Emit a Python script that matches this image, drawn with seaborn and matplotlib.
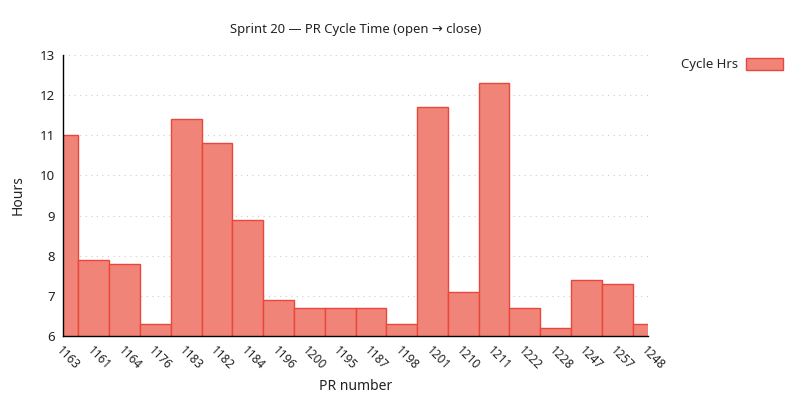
import matplotlib
matplotlib.use("Agg")
import matplotlib.pyplot as plt
import seaborn as sns
import pandas as pd
from matplotlib.patches import Patch

pr_numbers = ["1163", "1161", "1164", "1176", "1183", "1182", "1184", "1196", "1200", "1195",
              "1187", "1198", "1201", "1210", "1211", "1222", "1228", "1247", "1257", "1248"]
cycle_hrs = [11.0, 7.9, 7.8, 6.3, 11.4, 10.8, 8.9, 6.9, 6.7, 6.7,
             6.7, 6.3, 11.7, 7.1, 12.3, 6.7, 6.2, 7.4, 7.3, 6.3]
y_ticks = [6, 7, 8, 9, 10, 11, 12, 13]

sns.set_style("white")
plt.rcParams["font.family"] = ["Noto Sans", "DejaVu Sans"]

FILL = "#F08478"
EDGE = "#E8473A"

df = pd.DataFrame({"PR": pr_numbers, "Hours": cycle_hrs})

fig = plt.figure(figsize=(8, 4), dpi=100)
ax = fig.add_axes([63/800, 64/400, (648-63)/800, (336-55)/400])

sns.barplot(data=df, x="PR", y="Hours", order=pr_numbers, width=1.0,
            color=FILL, saturation=1, edgecolor=EDGE, linewidth=1.0, ax=ax)
for p in ax.patches:
    p.set_facecolor(FILL)

ax.set_xlim(0, len(pr_numbers) - 1)
ax.set_ylim(6, 13)
ax.set_yticks(y_ticks)
ax.set_yticklabels([str(t) for t in y_ticks], fontsize=9.5, color="#222222")
ax.set_xticks(range(len(pr_numbers)))
ax.set_xticklabels(pr_numbers, rotation=-45, ha="left", va="top",
                   rotation_mode="anchor", fontsize=8.5, color="#222222")
ax.tick_params(axis="both", direction="in", length=5, width=1, color="black")
ax.tick_params(axis="x", length=0, pad=6)
ax.tick_params(axis="y", pad=6)

ax.grid(axis="y", linestyle=(0, (1, 4)), color="#cccccc", linewidth=0.8)
ax.set_axisbelow(True)

for s in ["top", "right"]:
    ax.spines[s].set_visible(False)
for s in ["left", "bottom"]:
    ax.spines[s].set_color("black")
    ax.spines[s].set_linewidth(1.0)

ax.set_xlabel("PR number", fontsize=10, color="#222222")
ax.set_ylabel("Hours", fontsize=10, color="#222222")
ax.xaxis.set_label_coords(0.5, (336 - 387) / 281, transform=ax.transAxes)
ax.xaxis.label.set_va("center")
ax.yaxis.set_label_coords((18 - 63) / 585, 0.5, transform=ax.transAxes)
ax.yaxis.label.set_va("center")
ax.set_title("Sprint 20 \u2014 PR Cycle Time (open \u2192 close)", fontsize=9.4,
             color="#222222", pad=16)

handle = Patch(facecolor=FILL, edgecolor=EDGE, linewidth=1.0)
fig.legend([handle], ["Cycle Hrs"], loc="upper right", bbox_to_anchor=(0.993, 0.885),
           frameon=False, markerfirst=False, fontsize=9.5, handlelength=2.8,
           handleheight=1.0, handletextpad=0.6)

fig.savefig("out.png", dpi=100)
